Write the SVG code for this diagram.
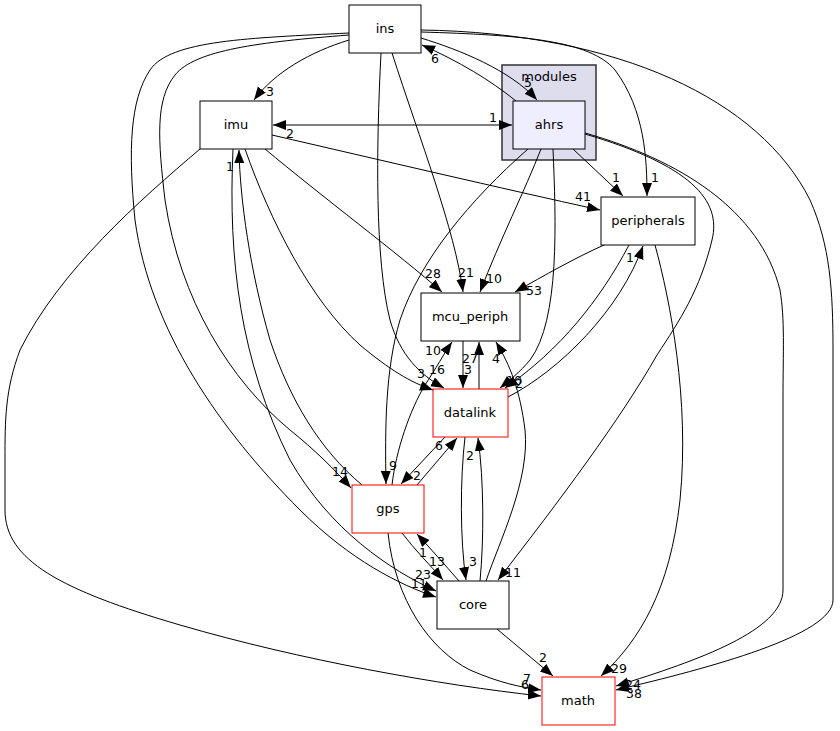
<svg xmlns="http://www.w3.org/2000/svg" width="840" height="731" viewBox="0 0 840 731">
<style>
.n{fill:#fff;stroke:#000;stroke-width:1}
.r{fill:#fff;stroke:#f00;stroke-width:1}
.t{font-family:"DejaVu Sans","Liberation Sans",sans-serif;font-size:13px;text-anchor:middle;fill:#000}
.e path{fill:none;stroke:#000;stroke-width:1;marker-end:url(#a)}
.e path.b{marker-start:url(#a)}
.l{font-family:"DejaVu Sans","Liberation Sans",sans-serif;font-size:12.5px;text-anchor:middle;fill:#000}
</style>
<defs>
<marker id="a" markerUnits="userSpaceOnUse" markerWidth="14" markerHeight="11" refX="13" refY="5" orient="auto-start-reverse">
<path d="M0,0 L13,5 L0,10 z" fill="#000"/>
</marker>
</defs>
<rect width="840" height="731" fill="#fff"/>
<g id="cluster_modules">
<rect x="502" y="65" width="94" height="95" fill="#ddddee" stroke="#333" stroke-width="1.5"/>
<text class="t" x="549" y="81">modules</text>
</g>
<g class="e" id="edges">
<path d="M349,40 C310,52 275,72 254,100"/>
<path d="M421,38 C460,50 510,70 537,100"/>
<path d="M516,101 C490,80 460,62 422,45"/>
<path class="b" d="M273,125 L512,125"/>
<path d="M272,135 C380,160 500,188 600,210"/>
<path d="M421,32 C520,35 590,40 615,70 C645,110 647,160 647,196"/>
<path d="M421,30 C620,33 760,100 810,200 C830,245 833,290 833,350 L833,600 C833,635 710,668 616,690"/>
<path d="M585,133 C680,160 760,210 780,290 C785,320 783,350 783,400 L783,590 C783,630 700,660 616,686"/>
<path d="M585,134 C690,165 722,200 712,240 C700,290 680,320 657,355 C620,420 560,500 498,580"/>
<path d="M573,149 L623,196"/>
<path d="M392,53 C420,140 455,230 463,292"/>
<path d="M265,149 C320,195 400,255 442,292"/>
<path d="M541,149 C525,190 500,240 480,292"/>
<path d="M604,245 C575,258 545,275 515,292"/>
<path d="M381,53 C376,150 375,260 390,320 C400,355 420,375 444,388"/>
<path d="M245,149 C270,220 310,300 360,345 C390,370 410,382 433,390"/>
<path d="M463,341 L463,388"/>
<path d="M479,389 L479,342"/>
<path d="M392,485 C396,450 410,410 425,385 C435,370 445,352 452,342"/>
<path d="M486,581 C500,540 530,480 525,430 C520,390 510,365 496,342"/>
<path d="M553,149 C556,220 560,320 530,360 C520,372 510,380 500,388"/>
<path d="M629,245 C600,300 560,350 505,388"/>
<path d="M508,397 C560,370 620,310 643,246"/>
<path d="M417,485 L457,438"/>
<path d="M445,437 L401,484"/>
<path d="M465,437 C460,480 460,540 466,580"/>
<path d="M480,581 C484,540 484,480 478,438"/>
<path d="M402,533 C415,550 430,565 443,580"/>
<path d="M459,581 C445,565 430,548 417,534"/>
<path d="M233,149 C228,260 240,360 290,460 C330,530 390,570 436,591"/>
<path d="M362,485 C320,450 290,400 270,340 C250,270 240,200 239,150"/>
<path d="M349,35 C260,42 195,50 175,75 C155,100 158,140 165,200 C180,300 230,380 290,430 C315,450 335,470 351,488"/>
<path d="M349,33 C250,38 170,40 150,70 C130,100 128,150 135,220 C150,330 220,430 300,510 C350,560 400,585 436,597"/>
<path d="M528,149 C470,200 420,260 400,320 C385,370 385,430 386,484"/>
<path d="M200,149 C140,200 60,270 20,350 C5,390 5,420 5,460 L5,510 C5,560 60,590 180,625 C300,660 440,685 541,696"/>
<path d="M388,533 C395,600 430,650 470,670 C500,683 520,687 541,690"/>
<path d="M497,629 L553,676"/>
<path d="M655,245 C670,300 690,400 680,500 C670,590 640,640 601,676"/>
</g>
<g id="labels">
<text class="l" x="270" y="96">3</text>
<text class="l" x="528" y="87">5</text>
<text class="l" x="435" y="63">6</text>
<text class="l" x="493" y="122">1</text>
<text class="l" x="290" y="138">2</text>
<text class="l" x="583" y="201">41</text>
<text class="l" x="655" y="182">1</text>
<text class="l" x="616" y="182">1</text>
<text class="l" x="466" y="277">21</text>
<text class="l" x="433" y="278">28</text>
<text class="l" x="494" y="283">10</text>
<text class="l" x="534" y="295">53</text>
<text class="l" x="437" y="374">16</text>
<text class="l" x="421" y="378">3</text>
<text class="l" x="468" y="374">3</text>
<text class="l" x="470" y="363">27</text>
<text class="l" x="433" y="355">10</text>
<text class="l" x="496" y="363">4</text>
<text class="l" x="514" y="385">10</text>
<text class="l" x="519" y="388">2</text>
<text class="l" x="630" y="262">1</text>
<text class="l" x="439" y="450">6</text>
<text class="l" x="417" y="480">2</text>
<text class="l" x="473" y="566">3</text>
<text class="l" x="470" y="460">2</text>
<text class="l" x="437" y="566">13</text>
<text class="l" x="423" y="557">1</text>
<text class="l" x="423" y="579">23</text>
<text class="l" x="419" y="588">11</text>
<text class="l" x="230" y="171">1</text>
<text class="l" x="340" y="476">14</text>
<text class="l" x="393" y="470">9</text>
<text class="l" x="527" y="683">7</text>
<text class="l" x="525" y="689">6</text>
<text class="l" x="543" y="662">2</text>
<text class="l" x="619" y="673">29</text>
<text class="l" x="513" y="577">11</text>
<text class="l" x="633" y="689">24</text>
<text class="l" x="634" y="698">38</text>
</g>
<g id="ins"><rect class="n" x="349" y="5" width="72" height="48"/><text class="t" x="385" y="33">ins</text></g>
<g id="ahrs"><rect x="513" y="101" width="72" height="48" fill="#eeeeff" stroke="#000"/><text class="t" x="549" y="129">ahrs</text></g>
<g id="imu"><rect class="n" x="200" y="101" width="72" height="48"/><text class="t" x="236" y="129">imu</text></g>
<g id="peripherals"><rect class="n" x="601" y="197" width="94" height="48"/><text class="t" x="648" y="225">peripherals</text></g>
<g id="mcu_periph"><rect class="n" x="421" y="293" width="99" height="48"/><text class="t" x="470" y="321">mcu_periph</text></g>
<g id="datalink"><rect class="r" x="433" y="389" width="75" height="48"/><text class="t" x="470" y="417">datalink</text></g>
<g id="gps"><rect class="r" x="352" y="485" width="72" height="48"/><text class="t" x="388" y="513">gps</text></g>
<g id="core"><rect class="n" x="437" y="581" width="72" height="48"/><text class="t" x="473" y="609">core</text></g>
<g id="math"><rect class="r" x="542" y="677" width="73" height="48"/><text class="t" x="578" y="705">math</text></g>
</svg>
